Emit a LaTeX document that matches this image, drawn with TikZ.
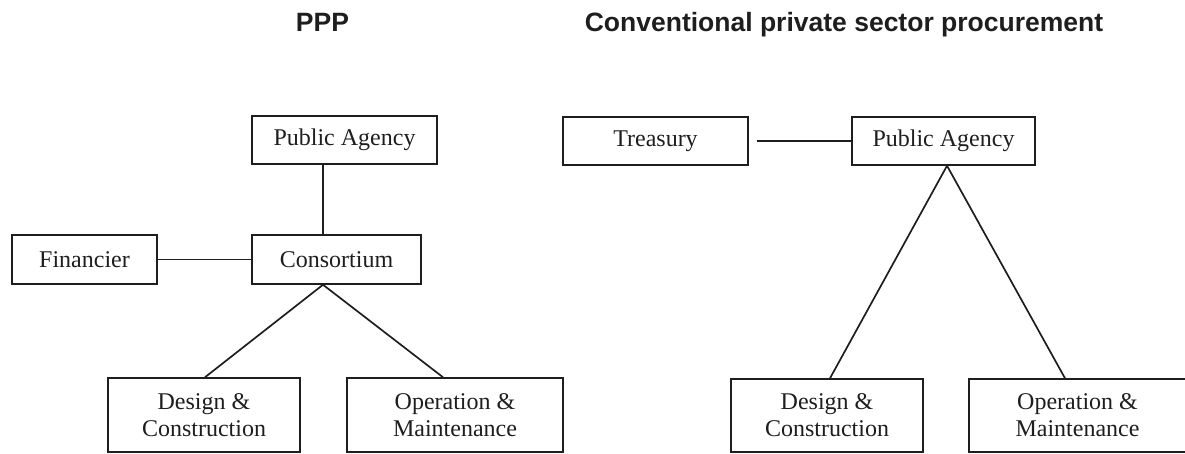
\documentclass[tikz,border=0pt]{standalone}
\usepackage{fontspec}
\setmainfont{Liberation Serif}
\setsansfont{Liberation Sans}
\definecolor{ink}{RGB}{30,30,30}
\begin{document}
\begin{tikzpicture}[x=1pt,y=-1pt,
  box/.style={draw=ink, line width=1.5pt, inner sep=0pt, align=center,
    text=ink, font=\fontsize{24}{27}\selectfont},
  link/.style={draw=ink, line width=1.7pt},
  heading/.style={anchor=base, text=ink, inner sep=0pt,
    font=\sffamily\bfseries\fontsize{26.5}{30}\selectfont}]
\useasboundingbox (0,0) rectangle (1185,454);

% Headings
\node[heading] (t1) at (322.5,32) {PPP};
\node[heading] (t2) at (844,32) {Conventional private sector procurement};

% PPP structure
\node[box, minimum width=185, minimum height=48] (pa1) at (344.5,140) {Public Agency};
\node[box, minimum width=145, minimum height=49] (fin) at (84.5,259.5) {Financier};
\node[box, minimum width=169, minimum height=49] (cons) at (336.5,259.5) {Consortium};
\node[box, minimum width=192, minimum height=74] (dc1) at (204,415) {Design \&\\Construction};
\node[box, minimum width=216, minimum height=74] (om1) at (455,415) {Operation \&\\Maintenance};

\draw[link] ([xshift=-21.5]pa1.south) -- ([xshift=-13.5]cons.north);
\draw[link] (fin.east) -- (cons.west);
\draw[link] ([xshift=1]dc1.north) -- ([xshift=-13.5]cons.south) -- ([xshift=-12]om1.north);

% Conventional structure
\node[box, minimum width=185, minimum height=48] (tre) at (655.5,141) {Treasury};
\node[box, minimum width=183, minimum height=48] (pa2) at (943.5,141) {Public Agency};
\node[box, minimum width=192, minimum height=73] (dc2) at (827,415.5) {Design \&\\Construction};
\node[box, minimum width=217, minimum height=73] (om2) at (1077.5,415.5) {Operation \&\\Maintenance};

\draw[link] ([xshift=8]tre.east) -- (pa2.west);
\draw[link] ([xshift=3]dc2.north) -- ([xshift=3.5]pa2.south) -- ([xshift=-12.5]om2.north);
\end{tikzpicture}
\end{document}
